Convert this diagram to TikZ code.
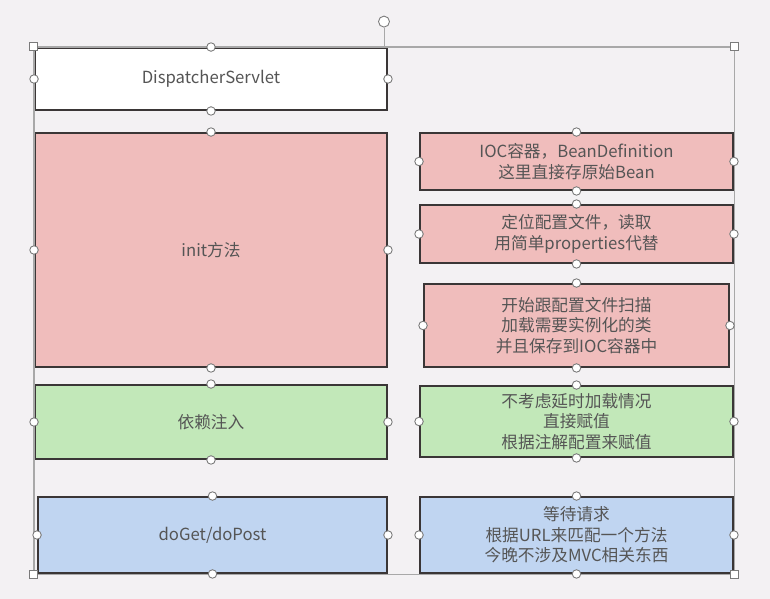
\documentclass[tikz,border=0pt]{standalone}
\usepackage{fontspec}
\setmainfont{Noto Sans CJK SC}
\usetikzlibrary{positioning,fit,calc,backgrounds}
\definecolor{canvasgray}{HTML}{F3F1F3}
\definecolor{boxline}{HTML}{3A3636}
\definecolor{labelgray}{HTML}{555555}
\definecolor{initpink}{HTML}{F0BDBC}
\definecolor{injgreen}{HTML}{C2E8B9}
\definecolor{reqblue}{HTML}{C0D5F1}
\definecolor{handlegray}{HTML}{7A7A7A}
\definecolor{framegray}{HTML}{A8A8A8}
\tikzset{
  stagebox/.style={draw=boxline, line width=1.1pt, inner sep=2pt, align=center, text=labelgray, font=\fontsize{9.5}{11.6}\selectfont},
  servletnode/.style={stagebox, fill=white},
  initnode/.style={stagebox, fill=initpink},
  injnode/.style={stagebox, fill=injgreen},
  reqnode/.style={stagebox, fill=reqblue},
  handle/.style={circle, draw=handlegray, fill=white, line width=0.5pt, minimum size=0.17cm, inner sep=0pt},
  cornerhandle/.style={rectangle, draw=handlegray, fill=white, line width=0.5pt, minimum size=0.15cm, inner sep=0pt},
  selframe/.style={draw=framegray, line width=0.5pt, inner sep=0pt}
}

\begin{document}
\begin{tikzpicture}
  \useasboundingbox (0,0) rectangle (15.4,-11.98);

  % left column
  \node[servletnode, minimum width=7.04cm, minimum height=1.24cm] (ds) at (4.22,-1.58) {DispatcherServlet};
  \node[initnode, minimum width=7.04cm, minimum height=4.68cm] (init) at (4.22,-5.0) {init方法};
  \node[injnode, minimum width=7.04cm, minimum height=1.48cm] (di) at (4.22,-8.44) {依赖注入};
  \node[reqnode, minimum width=6.98cm, minimum height=1.52cm] (web) at (4.25,-10.7) {doGet/doPost};

  % right column
  \node[initnode, minimum width=6.26cm, minimum height=1.14cm] (ioc) at (11.53,-3.23) {IOC容器，BeanDefinition\\这里直接存原始Bean};
  \node[initnode, minimum width=6.26cm, minimum height=1.16cm] (cfg) at (11.53,-4.68) {定位配置文件，读取\\用简单properties代替};
  \node[initnode, minimum width=6.1cm, minimum height=1.66cm] (scan) at (11.53,-6.51) {开始跟配置文件扫描\\加载需要实例化的类\\并且保存到IOC容器中};
  \node[injnode, minimum width=6.26cm, minimum height=1.42cm] (inj) at (11.53,-8.43) {不考虑延时加载情况\\直接赋值\\根据注解配置来赋值};
  \node[reqnode, minimum width=6.26cm, minimum height=1.52cm] (req) at (11.53,-10.7) {等待请求\\根据URL来匹配一个方法\\今晚不涉及MVC相关东西};

  % selection frame
  \node[selframe, fit=(ds)(ioc)(req)] (sel) {};
  \begin{scope}[on background layer]
    \fill[canvasgray] (0,0) rectangle (15.4,-11.98);
    \draw[framegray, line width=0.5pt] (sel.north west) rectangle (sel.south east);
  \end{scope}

  % handles
  \foreach \b in {ds,init,di,web,ioc,cfg,scan,inj,req}
    \foreach \a in {north,south,east,west}
      \node[handle] (\b-\a-h) at (\b.\a) {};
  \foreach \a in {north west,north east,south west,south east}
    \node[cornerhandle] (sel-\a-h) at (sel.\a) {};
  \node[handle, minimum size=0.22cm] (rot) at ($(sel.north)+(0,0.5)$) {};
  \draw[framegray, line width=0.5pt] (sel.north) -- (rot);
\end{tikzpicture}
\end{document}
